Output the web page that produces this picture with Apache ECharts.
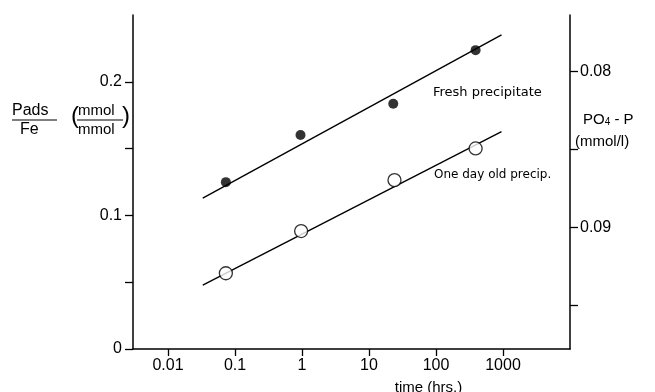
<!DOCTYPE html>
<html>
<head>
<meta charset="utf-8">
<script src="https://cdn.jsdelivr.net/npm/echarts@6/dist/echarts.min.js"></script>
<style>html,body{margin:0;padding:0;background:#fff}#c{width:655px;height:392px}</style>
</head>
<body>
<div id="c"></div>
<script>
// ---- data ----
var timeTicks = [0.01, 0.1, 1, 10, 100, 1000];
var leftTicks = [0, 0.05, 0.1, 0.15, 0.2];
var leftLabels = [0, 0.1, 0.2];
var rightTicks = [0.08, 0.085, 0.09, 0.095];
var rightLabels = [0.08, 0.09];

var freshTime = [0.073, 0.95, 23, 390];
var freshPads = [0.1249, 0.1602, 0.1836, 0.2237];
var oldTime = [0.073, 0.97, 24, 390];
var oldPads = [0.0567, 0.0883, 0.1264, 0.1501];

var freshFitTime = [0.033, 950];
var freshFitPads = [0.1129, 0.2351];
var oldFitTime = [0.033, 950];
var oldFitPads = [0.0478, 0.1627];

function pairs(xs, ys) { return xs.map(function (x, i) { return [x, ys[i]]; }); }

var FONT = '"Liberation Sans", Arial, sans-serif';
var FONT2 = '"DejaVu Sans", "Liberation Sans", sans-serif';
var black = '#000';

var chart = echarts.init(document.getElementById('c'), null, { renderer: 'canvas' });

var option = {
  backgroundColor: '#fff',
  animation: false,
  grid: { left: 133, right: 85, top: 15, bottom: 43, containLabel: false, outerBoundsMode: 'none' },
  xAxis: {
    type: 'log', logBase: 10, min: 0.003, max: 10000,
    axisLine: { show: true, lineStyle: { color: black, width: 1.5 } },
    axisTick: { show: true, customValues: timeTicks, length: 7, lineStyle: { color: black, width: 1.3 } },
    splitLine: { show: false },
    minorTick: { show: false },
    axisLabel: {
      customValues: timeTicks, margin: 9, color: black, fontFamily: FONT, fontSize: 16,
      formatter: function (v) {
        if (v < 1) { return String(+v.toPrecision(3)); }
        return String(Math.round(v));
      }
    },
    name: 'time (hrs.)', nameLocation: 'middle', nameGap: 31,
    nameTextStyle: { color: black, fontFamily: FONT, fontSize: 15, padding: [0, 0, 0, 154] }
  },
  yAxis: [
    {
      type: 'value', min: 0, max: 0.25, position: 'left',
      axisLine: { show: true, lineStyle: { color: black, width: 1.5 } },
      axisTick: { show: true, customValues: leftTicks, length: 8, lineStyle: { color: black, width: 1.3 } },
      splitLine: { show: false },
      axisLabel: {
        customValues: leftLabels, margin: 11, color: black, fontFamily: FONT, fontSize: 16,
        formatter: function (v) { return v === 0 ? '0' : v.toFixed(1); }
      }
    },
    {
      type: 'value', min: 0.0764, max: 0.0978, inverse: true, position: 'right',
      axisLine: { show: true, lineStyle: { color: black, width: 1.5 } },
      axisTick: { show: true, customValues: rightTicks, length: 8, lineStyle: { color: black, width: 1.3 } },
      splitLine: { show: false },
      axisLabel: {
        customValues: rightLabels, margin: 10, color: black, fontFamily: FONT, fontSize: 16,
        formatter: function (v) { return v.toFixed(2); }
      }
    }
  ],
  series: [
    {
      type: 'line', data: pairs(freshFitTime, freshFitPads), showSymbol: false, symbol: 'none',
      lineStyle: { color: black, width: 1.4 }, z: 2
    },
    {
      type: 'line', data: pairs(oldFitTime, oldFitPads), showSymbol: false, symbol: 'none',
      lineStyle: { color: black, width: 1.4 }, z: 2
    },
    {
      type: 'scatter', data: pairs(freshTime, freshPads), symbol: 'circle', symbolSize: 10,
      itemStyle: { color: black, borderWidth: 0 }, z: 3
    },
    {
      type: 'scatter', data: pairs(oldTime, oldPads), symbol: 'circle', symbolSize: 13,
      itemStyle: { color: '#fff', borderColor: black, borderWidth: 1.3 }, z: 3
    }
  ],
  graphic: [
    // annotations
    { type: 'text', left: 433, top: 86, style: { text: 'Fresh precipitate', fill: black, font: '13px ' + FONT2 } },
    { type: 'text', left: 434, top: 169, style: { text: 'One day old precip.', fill: black, font: '12px ' + FONT2 } },
    // left axis label: Pads / Fe (mmol / mmol)
    { type: 'text', left: 12, top: 103, style: { text: 'Pads', fill: black, font: '16px ' + FONT } },
    { type: 'line', shape: { x1: 12, y1: 120, x2: 57, y2: 120 }, style: { stroke: black, lineWidth: 1.2 } },
    { type: 'text', left: 20, top: 122, style: { text: 'Fe', fill: black, font: '16px ' + FONT } },
    { type: 'text', left: 71, top: 104, style: { text: '(', fill: black, font: '24px ' + FONT } },
    { type: 'text', left: 78, top: 103, style: { text: 'mmol', fill: black, font: '15px ' + FONT } },
    { type: 'line', shape: { x1: 77, y1: 120, x2: 123, y2: 120 }, style: { stroke: black, lineWidth: 1.2 } },
    { type: 'text', left: 78, top: 122, style: { text: 'mmol', fill: black, font: '15px ' + FONT } },
    { type: 'text', left: 122, top: 104, style: { text: ')', fill: black, font: '24px ' + FONT } },
    // right axis label
    {
      type: 'text', left: 583, top: 112,
      style: {
        text: '{a|PO}{b|4}{a| - P}', fill: black,
        rich: {
          a: { fontFamily: FONT, fontSize: 15, fill: black },
          b: { fontFamily: FONT, fontSize: 10, fill: black, padding: [6, 0, 0, 0] }
        }
      }
    },
    { type: 'text', left: 575, top: 134, style: { text: '(mmol/l)', fill: black, font: '15px ' + FONT } }
  ]
};

chart.setOption(option);
</script>
</body>
</html>
